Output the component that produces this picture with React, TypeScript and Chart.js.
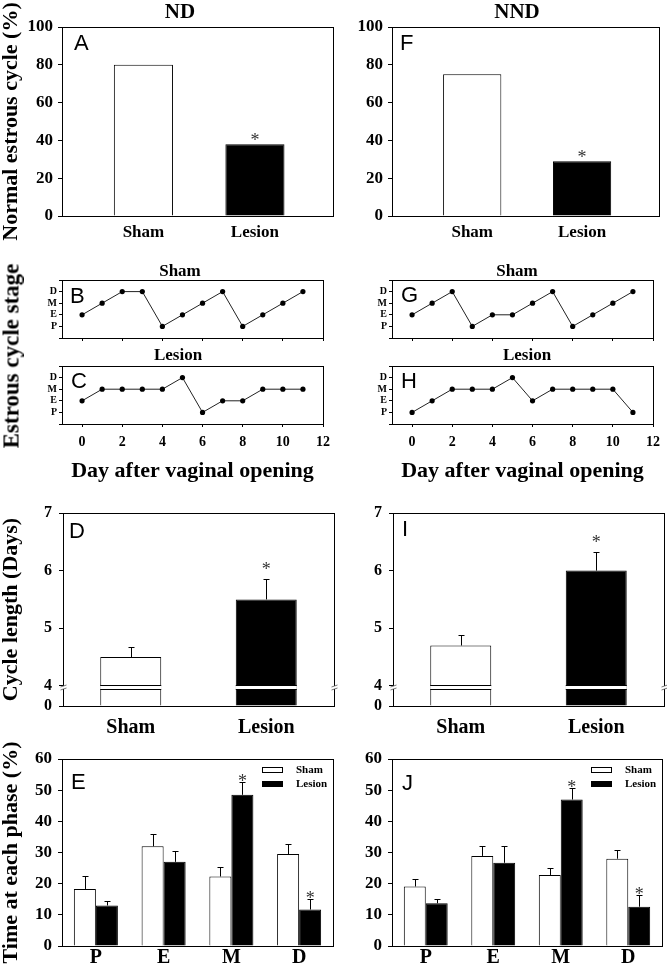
import React, { useEffect, useRef } from 'react';
import { Chart, LinearScale, registerables } from 'chart.js';

Chart.register(...registerables);

const SERIF = '"Liberation Serif", "Times New Roman", Times, serif';
const SANS = '"Liberation Sans", Arial, Helvetica, sans-serif';

// ---------------- data ----------------
const groups = ['Sham', 'Lesion'];
const normalTicks = [0, 20, 40, 60, 80, 100];
const normalCycleND = [80, 38];
const normalCycleNND = [75, 29];
const normalSigND = ['', '*'];
const normalSigNND = ['', '*'];

const stageOrder = ['P', 'E', 'M', 'D'];
const stageTickValues = [0, 1, 2, 3, 4, 5];
const days = [0, 1, 2, 3, 4, 5, 6, 7, 8, 9, 10, 11];
const dayTicks = [0, 2, 4, 6, 8, 10, 12];
const shamStagesND = ['E', 'M', 'D', 'D', 'P', 'E', 'M', 'D', 'P', 'E', 'M', 'D'];
const lesionStagesND = ['E', 'M', 'M', 'M', 'M', 'D', 'P', 'E', 'E', 'M', 'M', 'M'];
const shamStagesNND = ['E', 'M', 'D', 'P', 'E', 'E', 'M', 'D', 'P', 'E', 'M', 'D'];
const lesionStagesNND = ['P', 'E', 'M', 'M', 'M', 'D', 'E', 'M', 'M', 'M', 'M', 'P'];

const cycleTicks = [0, 4, 5, 6, 7];
const cycleLenND = [4.5, 5.5];
const cycleLenErrND = [0.17, 0.35];
const cycleLenNND = [4.7, 6.0];
const cycleLenErrNND = [0.18, 0.33];
const cycleSig = ['', '*'];

const phases = ['P', 'E', 'M', 'D'];
const phaseTicks = [0, 10, 20, 30, 40, 50, 60];
const phaseShamND = [18.3, 32.0, 22.3, 29.5];
const phaseShamErrND = [4.2, 3.8, 2.9, 3.2];
const phaseLesionND = [13.0, 27.0, 48.5, 11.7];
const phaseLesionErrND = [1.4, 3.6, 4.2, 3.4];
const phaseSigLesionND = ['', '', '*', '*'];
const phaseShamNND = [19.1, 28.9, 22.8, 28.0];
const phaseShamErrNND = [2.4, 3.2, 2.2, 2.8];
const phaseLesionNND = [13.7, 26.7, 47.0, 12.6];
const phaseLesionErrNND = [1.3, 5.4, 3.7, 3.7];
const phaseSigLesionNND = ['', '', '*', '*'];

// ---------------- styles ----------------
const barFills = ['#ffffff', '#000000'];

// ---------------- broken y scale ----------------
class BrokenLinearScale extends LinearScale {
  static id = 'brokenLinear';
  brkT(v: number) {
    const o: any = this.options;
    const at = o.breakAt ?? 4;
    const low = o.lowSpan ?? 0.35;
    return v <= at ? (v / at) * low : low + (v - at);
  }
  getPixelForValue(value: any) {
    if (value === null || value === undefined || isNaN(value)) return NaN;
    const a = this.brkT(this.min);
    const b = this.brkT(this.max);
    return this.getPixelForDecimal((this.brkT(value) - a) / (b - a));
  }
  getValueForPixel(pixel: number) {
    const o: any = this.options;
    const at = o.breakAt ?? 4;
    const low = o.lowSpan ?? 0.35;
    const a = this.brkT(this.min);
    const b = this.brkT(this.max);
    const t = a + this.getDecimalForPixel(pixel) * (b - a);
    return t <= low ? (t / low) * at : at + (t - low);
  }
}
Chart.register(BrokenLinearScale as any);

Chart.defaults.font.family = SERIF;
(Chart.defaults.font as any).weight = 'bold';
Chart.defaults.color = '#000';

// ---------------- plugins ----------------
const framePlugin = {
  id: 'frame',
  afterDraw(chart: any) {
    const { ctx, chartArea: a } = chart;
    ctx.save();
    ctx.strokeStyle = '#000';
    ctx.lineWidth = 1;
    const l = Math.round(a.left) + 0.5;
    const t = Math.round(a.top) + 0.5;
    const r = Math.round(a.right) + 0.5;
    const b = Math.round(a.bottom) + 0.5;
    ctx.strokeRect(l, t, r - l, b - t);
    ctx.restore();
  },
};

const letterPlugin = {
  id: 'panelLetter',
  afterDraw(chart: any, _args: any, opts: any) {
    if (!opts || !opts.text) return;
    const { ctx, chartArea: a } = chart;
    ctx.save();
    ctx.font = `${opts.size || 22}px ${SANS}`;
    ctx.fillStyle = '#000';
    ctx.textAlign = 'left';
    ctx.textBaseline = 'alphabetic';
    ctx.fillText(opts.text, a.left + opts.dx, a.top + opts.dy);
    ctx.restore();
  },
};

const valueOf = (d: any) => (typeof d === 'number' ? d : d.y);

const errorBarPlugin = {
  id: 'errorBars',
  afterDatasetsDraw(chart: any, _args: any, opts: any) {
    const { ctx } = chart;
    const ys = chart.scales.y;
    const sigShift = opts && typeof opts.sigShift === 'number' ? opts.sigShift : 3;
    chart.data.datasets.forEach((ds: any, di: number) => {
      const meta = chart.getDatasetMeta(di);
      meta.data.forEach((bar: any, i: number) => {
        const v = valueOf(ds.data[i]);
        const err = ds.errors ? ds.errors[i] : 0;
        let topY = bar.y;
        ctx.save();
        if (err) {
          const ey = Math.round(ys.getPixelForValue(v + err)) + 0.5;
          const x = Math.round(bar.x) + 0.5;
          ctx.strokeStyle = '#000';
          ctx.lineWidth = 1;
          ctx.beginPath();
          ctx.moveTo(x, bar.y);
          ctx.lineTo(x, ey);
          ctx.moveTo(x - 3, ey);
          ctx.lineTo(x + 3, ey);
          ctx.stroke();
          topY = ey;
        }
        if (ds.sig && ds.sig[i]) {
          ctx.fillStyle = '#333';
          ctx.font = `normal 18px ${SERIF}`;
          ctx.textAlign = 'center';
          ctx.textBaseline = 'alphabetic';
          ctx.fillText(ds.sig[i], bar.x, topY + sigShift);
        }
        ctx.restore();
      });
    });
  },
};

const boxLegendPlugin = {
  id: 'boxLegend',
  afterDraw(chart: any, _args: any, opts: any) {
    if (!opts || !opts.display) return;
    const { ctx, chartArea: a } = chart;
    ctx.save();
    chart.data.datasets.forEach((ds: any, i: number) => {
      const x = Math.round(a.right - opts.fromRight);
      const y = Math.round(a.top + opts.rowY[i]);
      ctx.fillStyle = ds.backgroundColor;
      ctx.fillRect(x, y - 3, 21, 6);
      ctx.strokeStyle = '#000';
      ctx.lineWidth = 1;
      ctx.strokeRect(x + 0.5, y - 2.5, 20, 5);
      ctx.fillStyle = '#000';
      ctx.font = `bold 11px ${SERIF}`;
      ctx.textAlign = 'left';
      ctx.textBaseline = 'middle';
      ctx.fillText(ds.label, x + 34, y);
    });
    ctx.restore();
  },
};

const breakPlugin = {
  id: 'axisBreak',
  afterDatasetsDraw(chart: any, _args: any, opts: any) {
    if (!opts || !opts.enabled) return;
    const { ctx } = chart;
    const ys = chart.scales.y;
    const yb = Math.round(ys.getPixelForValue(ys.options.breakAt));
    chart.data.datasets.forEach((_ds: any, di: number) => {
      const meta = chart.getDatasetMeta(di);
      meta.data.forEach((bar: any) => {
        if (bar.y < yb && bar.base > yb) {
          const x0 = bar.x - bar.width / 2;
          ctx.save();
          ctx.fillStyle = '#fff';
          ctx.fillRect(x0, yb, bar.width, 3);
          ctx.fillStyle = '#000';
          ctx.fillRect(x0, yb - 1, bar.width, 1);
          ctx.fillRect(x0, yb + 3, bar.width, 1);
          ctx.restore();
        }
      });
    });
  },
  afterDraw(chart: any, _args: any, opts: any) {
    if (!opts || !opts.enabled) return;
    const { ctx, chartArea: a } = chart;
    const ys = chart.scales.y;
    const yb = Math.round(ys.getPixelForValue(ys.options.breakAt));
    ctx.save();
    [a.left, a.right].forEach((edge: number) => {
      const e = Math.round(edge) + 0.5;
      ctx.fillStyle = '#fff';
      ctx.fillRect(e - 3, yb, 6, 3);
      ctx.strokeStyle = '#555';
      ctx.lineWidth = 0.8;
      ctx.beginPath();
      ctx.moveTo(e - 3, yb + 1);
      ctx.lineTo(e + 3, yb - 1);
      ctx.moveTo(e - 3, yb + 4);
      ctx.lineTo(e + 3, yb + 2);
      ctx.stroke();
    });
    ctx.restore();
  },
};

// ---------------- geometry helpers ----------------
type Geo = { cx: number; cy: number; l: number; t: number; r: number; b: number; padR: number; bottomH: number };

const canvasRect = (g: Geo) => ({
  left: g.cx,
  top: g.cy,
  width: g.r + g.padR - g.cx,
  height: g.b + g.bottomH - g.cy,
});

const baseOptions = (g: Geo, pluginOpts: any) => ({
  responsive: false,
  animation: false,
  events: [],
  layout: { padding: { left: 0, top: g.t - g.cy, right: g.padR, bottom: 0 } },
  plugins: { legend: { display: false }, tooltip: { enabled: false }, ...pluginOpts },
});

const tickGrid = (len: number) => ({
  display: true,
  drawOnChartArea: false,
  drawTicks: true,
  tickLength: len,
  color: '#000',
  lineWidth: 1,
});

const noGrid = { display: false, drawTicks: false, tickLength: 0 };

function yAxis(g: Geo, o: any) {
  return {
    type: o.type || 'linear',
    min: o.min,
    max: o.max,
    ...(o.extra || {}),
    afterBuildTicks: (s: any) => {
      s.ticks = o.ticks.map((v: number) => ({ value: v }));
    },
    afterFit: (s: any) => {
      s.width = g.l - g.cx;
    },
    grid: tickGrid(o.tickLength),
    border: { display: false },
    ticks: {
      font: { size: o.fontSize, weight: 'bold' },
      padding: o.padding,
      color: '#000',
      autoSkip: false,
      callback: o.callback || ((v: any) => String(v)),
    },
    title: o.title
      ? {
          display: true,
          text: o.title,
          font: { size: 22, weight: 'bold', lineHeight: 1 },
          padding: { top: 0, bottom: 0 },
          color: '#000',
        }
      : { display: false },
  };
}

// ---------------- chart configs ----------------
function normalConfig(g: Geo, values: number[], sig: string[], letter: any, yTitle: string | null) {
  return {
    type: 'bar',
    data: {
      datasets: [
        {
          data: values.map((v, i) => ({ x: i + 1, y: v })),
          backgroundColor: barFills,
          borderColor: '#000',
          borderWidth: 1,
          barPercentage: 0.53,
          categoryPercentage: 1,
          sig,
        },
      ],
    },
    options: {
      ...baseOptions(g, { panelLetter: letter, errorBars: { sigShift: 2 } }),
      scales: {
        x: {
          type: 'linear',
          offset: false,
          min: 0.27,
          max: 2.7,
          afterBuildTicks: (s: any) => {
            s.ticks = groups.map((_n, i) => ({ value: i + 1 }));
          },
          afterFit: (s: any) => {
            s.height = g.bottomH;
          },
          grid: noGrid,
          border: { display: false },
          ticks: {
            callback: (v: any) => groups[v - 1] ?? '',
            font: { size: 17, weight: 'bold' },
            padding: 6,
            autoSkip: false,
            maxRotation: 0,
            color: '#000',
          },
        },
        y: yAxis(g, { min: 0, max: 100, ticks: normalTicks, fontSize: 17, padding: 5, tickLength: 4, title: yTitle }),
      },
    },
    plugins: [framePlugin, errorBarPlugin, letterPlugin],
  };
}

function stageConfig(g: Geo, stages: string[], letter: any, showX: boolean) {
  return {
    type: 'line',
    data: {
      datasets: [
        {
          data: days.map((d, i) => ({ x: d, y: stageOrder.indexOf(stages[i]) + 1 })),
          borderColor: '#222',
          borderWidth: 1,
          pointRadius: 2.6,
          pointBackgroundColor: '#000',
          pointBorderColor: '#000',
          pointBorderWidth: 0,
          tension: 0,
        },
      ],
    },
    options: {
      ...baseOptions(g, { panelLetter: letter }),
      scales: {
        x: {
          type: 'linear',
          min: -1,
          max: 12,
          afterBuildTicks: (s: any) => {
            s.ticks = dayTicks.map((v) => ({ value: v }));
          },
          afterFit: (s: any) => {
            s.height = g.bottomH;
          },
          grid: tickGrid(3),
          border: { display: false },
          ticks: {
            display: showX,
            font: { size: 14, weight: 'bold' },
            padding: 7,
            autoSkip: false,
            maxRotation: 0,
            color: '#000',
          },
          title: showX
            ? {
                display: true,
                text: 'Day after vaginal opening',
                font: { size: 22, weight: 'bold', lineHeight: 1.2 },
                padding: { top: 0, bottom: 2 },
                color: '#000',
              }
            : { display: false },
        },
        y: yAxis(g, {
          min: 0,
          max: 5,
          ticks: stageTickValues,
          fontSize: 10,
          padding: 2,
          tickLength: 3,
          callback: (v: any) => stageOrder[v - 1] ?? '',
        }),
      },
    },
    plugins: [framePlugin, letterPlugin],
  };
}

function cycleConfig(g: Geo, values: number[], errs: number[], letter: any, yTitle: string | null) {
  return {
    type: 'bar',
    data: {
      labels: groups,
      datasets: [
        {
          data: values,
          errors: errs,
          sig: cycleSig,
          backgroundColor: barFills,
          borderColor: '#000',
          borderWidth: 1,
          barPercentage: 0.45,
          categoryPercentage: 1,
        },
      ],
    },
    options: {
      ...baseOptions(g, { panelLetter: letter, axisBreak: { enabled: true }, errorBars: { sigShift: -5 } }),
      scales: {
        x: {
          type: 'category',
          afterFit: (s: any) => {
            s.height = g.bottomH;
          },
          grid: noGrid,
          border: { display: false },
          ticks: { font: { size: 20, weight: 'bold' }, padding: 10, color: '#000', maxRotation: 0 },
        },
        y: yAxis(g, {
          type: 'brokenLinear',
          min: 0,
          max: 7,
          extra: { breakAt: 4, lowSpan: 0.35 },
          ticks: cycleTicks,
          fontSize: 16,
          padding: 7,
          tickLength: 4,
          title: yTitle,
        }),
      },
    },
    plugins: [framePlugin, errorBarPlugin, breakPlugin, letterPlugin],
  };
}

function phaseConfig(
  g: Geo,
  sham: number[],
  shamErr: number[],
  lesion: number[],
  lesionErr: number[],
  sig: string[],
  letter: any,
  yTitle: string | null
) {
  return {
    type: 'bar',
    data: {
      labels: phases,
      datasets: [
        {
          label: 'Sham',
          data: sham,
          errors: shamErr,
          backgroundColor: barFills[0],
          borderColor: '#000',
          borderWidth: 1,
          barPercentage: 1,
          categoryPercentage: 0.65,
        },
        {
          label: 'Lesion',
          data: lesion,
          errors: lesionErr,
          sig,
          backgroundColor: barFills[1],
          borderColor: '#000',
          borderWidth: 1,
          barPercentage: 1,
          categoryPercentage: 0.65,
        },
      ],
    },
    options: {
      ...baseOptions(g, {
        panelLetter: letter,
        errorBars: { sigShift: 4 },
        boxLegend: { display: true, fromRight: 71, rowY: [11, 25] },
      }),
      scales: {
        x: {
          type: 'category',
          afterFit: (s: any) => {
            s.height = g.bottomH;
          },
          grid: noGrid,
          border: { display: false },
          ticks: { font: { size: 20, weight: 'bold' }, padding: 0, color: '#000', maxRotation: 0 },
        },
        y: yAxis(g, { min: 0, max: 60, ticks: phaseTicks, fontSize: 17, padding: 6, tickLength: 4, title: yTitle }),
      },
    },
    plugins: [framePlugin, errorBarPlugin, boxLegendPlugin, letterPlugin],
  };
}

// ---------------- layout ----------------
const geoA: Geo = { cx: 0, cy: 0, l: 62, t: 27, r: 333, b: 216, padR: 10, bottomH: 40 };
const geoF: Geo = { cx: 330, cy: 0, l: 392, t: 27, r: 659, b: 216, padR: 8, bottomH: 40 };
const geoB: Geo = { cx: 0, cy: 270, l: 62, t: 280, r: 323, b: 338, padR: 16, bottomH: 10 };
const geoC: Geo = { cx: 0, cy: 356, l: 62, t: 366, r: 323, b: 424, padR: 16, bottomH: 63 };
const geoG: Geo = { cx: 330, cy: 270, l: 392, t: 280, r: 653, b: 338, padR: 14, bottomH: 10 };
const geoH: Geo = { cx: 330, cy: 356, l: 392, t: 366, r: 653, b: 424, padR: 14, bottomH: 63 };
const geoD: Geo = { cx: 0, cy: 494, l: 63, t: 513, r: 334, b: 706, padR: 10, bottomH: 36 };
const geoI: Geo = { cx: 330, cy: 494, l: 393, t: 513, r: 664, b: 706, padR: 3, bottomH: 36 };
const geoE: Geo = { cx: 0, cy: 740, l: 62, t: 759, r: 333, b: 946, padR: 10, bottomH: 23 };
const geoJ: Geo = { cx: 330, cy: 740, l: 392, t: 759, r: 662, b: 946, padR: 5, bottomH: 23 };

const panels = [
  { key: 'A', geo: geoA, make: () => normalConfig(geoA, normalCycleND, normalSigND, { text: 'A', dx: 12, dy: 23 }, 'Normal estrous cycle (%)') },
  { key: 'F', geo: geoF, make: () => normalConfig(geoF, normalCycleNND, normalSigNND, { text: 'F', dx: 8, dy: 23 }, null) },
  { key: 'B', geo: geoB, make: () => stageConfig(geoB, shamStagesND, { text: 'B', dx: 8, dy: 23 }, false) },
  { key: 'C', geo: geoC, make: () => stageConfig(geoC, lesionStagesND, { text: 'C', dx: 9, dy: 22 }, true) },
  { key: 'G', geo: geoG, make: () => stageConfig(geoG, shamStagesNND, { text: 'G', dx: 9, dy: 22 }, false) },
  { key: 'H', geo: geoH, make: () => stageConfig(geoH, lesionStagesNND, { text: 'H', dx: 9, dy: 22 }, true) },
  { key: 'D', geo: geoD, make: () => cycleConfig(geoD, cycleLenND, cycleLenErrND, { text: 'D', dx: 6, dy: 25 }, 'Cycle length (Days)') },
  { key: 'I', geo: geoI, make: () => cycleConfig(geoI, cycleLenNND, cycleLenErrNND, { text: 'I', dx: 9, dy: 23 }, null) },
  {
    key: 'E',
    geo: geoE,
    make: () =>
      phaseConfig(geoE, phaseShamND, phaseShamErrND, phaseLesionND, phaseLesionErrND, phaseSigLesionND, { text: 'E', dx: 9, dy: 30 }, 'Time at each phase (%)'),
  },
  {
    key: 'J',
    geo: geoJ,
    make: () =>
      phaseConfig(geoJ, phaseShamNND, phaseShamErrNND, phaseLesionNND, phaseLesionErrNND, phaseSigLesionNND, { text: 'J', dx: 10, dy: 31 }, null),
  },
];

function ChartCanvas({ geo, make }: { geo: Geo; make: () => any }) {
  const ref = useRef<HTMLCanvasElement>(null);
  const rect = canvasRect(geo);
  useEffect(() => {
    const chart = new Chart(ref.current as HTMLCanvasElement, make());
    return () => chart.destroy();
  }, []);
  return (
    <canvas
      ref={ref}
      width={rect.width}
      height={rect.height}
      style={{ position: 'absolute', left: rect.left, top: rect.top, width: rect.width, height: rect.height }}
    />
  );
}

const label = (x: number, y: number, size: number, rotate = false): React.CSSProperties => ({
  position: 'absolute',
  left: x,
  top: y,
  transform: rotate ? 'translate(-50%, -50%) rotate(-90deg)' : 'translate(-50%, -50%)',
  font: `bold ${size}px ${SERIF}`,
  lineHeight: 1,
  whiteSpace: 'nowrap',
  color: '#000',
});

export default function App() {
  return (
    <div style={{ position: 'absolute', left: 0, top: 0, width: 667, height: 969, overflow: 'hidden', background: '#fff' }}>
      {panels.map((p) => (
        <ChartCanvas key={p.key} geo={p.geo} make={p.make} />
      ))}
      <div style={label(180, 11, 21)}>ND</div>
      <div style={label(517, 11, 21)}>NND</div>
      <div style={label(180, 270, 17)}>Sham</div>
      <div style={label(178, 354, 17)}>Lesion</div>
      <div style={label(517, 270, 17)}>Sham</div>
      <div style={label(527, 354, 17)}>Lesion</div>
      <div style={label(11, 356, 23, true)}>Estrous cycle stage</div>
    </div>
  );
}
